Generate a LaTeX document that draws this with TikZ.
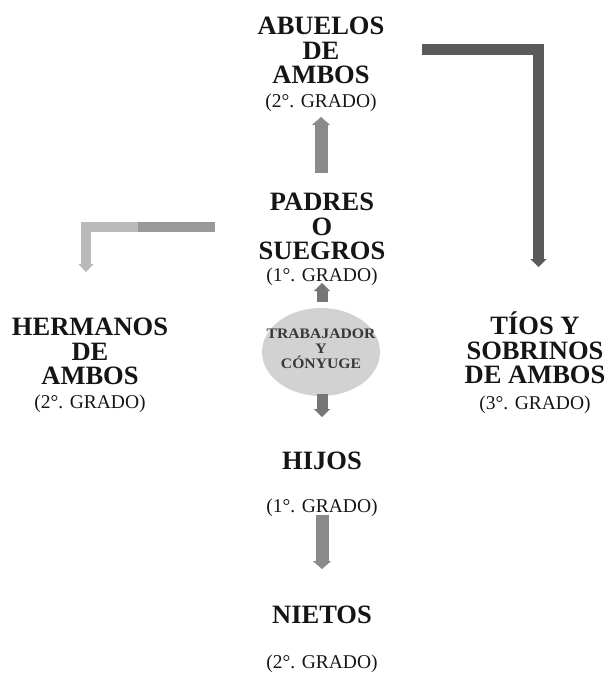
\documentclass[tikz,border=0pt]{standalone}
\usepackage{fontspec}
\setmainfont{Liberation Serif}
\usetikzlibrary{arrows.meta,shapes.geometric}
\definecolor{arrA}{HTML}{8A8A8A}
\definecolor{arrDark}{HTML}{5A5A5A}
\definecolor{arrLight}{HTML}{BABABA}
\definecolor{arrLmid}{HTML}{9A9A9A}
\definecolor{arrS}{HTML}{767676}
\definecolor{ellfill}{HTML}{D2D2D2}
\definecolor{txt}{HTML}{151515}
\begin{document}
\begin{tikzpicture}[x=1pt,y=-1pt,
  big/.style={font=\fontsize{26.5}{24.5}\selectfont\bfseries, align=center, inner sep=0pt, anchor=north, text=txt},
  grado/.style={font=\fontsize{19.5}{20}\selectfont, inner sep=0pt, anchor=base, text=txt},
  blk/.style={line width=#1, line join=miter,
    -{Triangle[width=#1+5pt,length=8pt,line width'=0.1pt]}},
  blk/.default=12pt
]
\useasboundingbox (0,0) rectangle (613,682);

% text blocks
\node[big] (abuelos) at (321,17) {ABUELOS\\DE\\AMBOS};
\node[grado] (abuelosg) at (321,108) {(2°. GRADO)};

\node[big] (padres) at (322,193) {PADRES\\O\\SUEGROS};
\node[grado] (padresg) at (322,281) {(1°. GRADO)};

\node[big] (hermanos) at (90,318) {HERMANOS\\DE\\AMBOS};
\node[grado] (hermanosg) at (90,408) {(2°. GRADO)};

\node[big] (tios) at (535,312) {TÍOS Y\\SOBRINOS\\DE AMBOS};
\node[grado] (tiosg) at (535,409) {(3°. GRADO)};

\node[big] (hijos) at (322,452) {HIJOS};
\node[grado] (hijosg) at (322,512) {(1°. GRADO)};

\node[big] (nietos) at (322,606) {NIETOS};
\node[grado] (nietosg) at (322,668) {(2°. GRADO)};

% central ellipse
\node[ellipse, minimum width=118pt, minimum height=88pt, inner sep=0pt,
      fill=ellfill] (trab) at (321,352) {};
\node[align=center, inner sep=0pt, text=black!78,
      font=\fontsize{14.5}{14.8}\selectfont\bfseries] (trabt) at (321,349)
  {\scalebox{1.08}[1]{TRABAJADOR}\\\scalebox{1.08}[1]{Y}\\\scalebox{1.08}[1]{CÓNYUGE}};

% connector end points
\coordinate (a1s) at (321,173);
\coordinate (a1e) at (321,117);
\coordinate (a2s) at (322,302);
\coordinate (a2e) at (322,283);
\coordinate (a3s) at (322,394);
\coordinate (a3e) at (322,417);
\coordinate (a4s) at (322,515);
\coordinate (a4e) at (322,569);
\coordinate (r1) at (422,50);
\coordinate (r2) at (538.5,50);
\coordinate (r3) at (538.5,267);
\coordinate (l1) at (215,227);
\coordinate (l2) at (86,227);
\coordinate (l3) at (86,272);
\coordinate (lm) at (138,227);

% arrows
\draw[blk=13pt, draw=arrA] (a1s) -- (a1e);
\draw[blk=11pt, draw=arrS] (a2s) -- (a2e);
\draw[blk=11pt, draw=arrS] (a3s) -- (a3e);
\draw[blk=13pt, draw=arrA] (a4s) -- (a4e);
\draw[blk=11pt, draw=arrDark] (r1) -- (r2) -- (r3);
\draw[blk=10pt, draw=arrLight] (l1) -- (l2) -- (l3);
\draw[line width=10pt, draw=arrLmid] (l1) -- (lm);
\end{tikzpicture}
\end{document}
